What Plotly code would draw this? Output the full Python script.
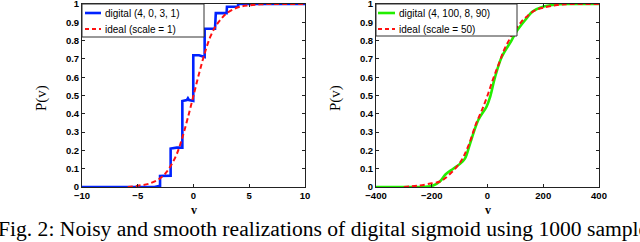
import plotly.graph_objects as go

W, H = 640, 242

# ---- data ----
dig1_v = [-10, -3.5, -3.0, -3.0, -2.05, -2.05, -1.5, -1.0, -1.0, -0.6, -0.5, -0.4, -0.02, -0.02, 0.5, 0.88, 1.0, 1.0, 1.93, 2.0, 2.97, 3.0, 4.0, 4.0, 10]
dig1_p = [0.0, 0.0, 0.006, 0.06, 0.062, 0.21, 0.215, 0.215, 0.47, 0.475, 0.485, 0.475, 0.47, 0.72, 0.72, 0.71, 0.71, 0.865, 0.865, 0.95, 0.95, 0.985, 0.985, 1.0, 1.0]
ideal1_v = [-5.9, -5, -4, -3, -2.5, -2, -1.5, -1, -0.5, 0, 0.5, 1, 1.5, 2, 2.5, 3, 4, 5, 6, 7, 10]
ideal1_p = [0.0, 0.007, 0.018, 0.047, 0.076, 0.12, 0.18, 0.27, 0.38, 0.5, 0.62, 0.73, 0.82, 0.88, 0.92, 0.95, 0.982, 0.993, 0.998, 1.0, 1.0]

dig2_v = [-400, -250, -200, -171, -150, -123, -100, -81, -63, -33, -3, 9, 27, 51, 86, 104, 134, 163, 199, 235, 280, 400]
dig2_p = [0.0, 0.0, 0.005, 0.03, 0.07, 0.1, 0.125, 0.155, 0.235, 0.366, 0.44, 0.49, 0.60, 0.71, 0.80, 0.85, 0.91, 0.96, 0.985, 0.995, 1.0, 1.0]
ideal2_v = [-300, -250, -200, -170, -150, -100, -70, -40, -20, 0, 20, 40, 60, 80, 100, 120, 140, 170, 200, 250, 300, 400]
ideal2_p = [0.0, 0.007, 0.02, 0.03, 0.05, 0.13, 0.22, 0.35, 0.42, 0.50, 0.59, 0.67, 0.75, 0.81, 0.86, 0.90, 0.93, 0.965, 0.98, 0.995, 1.0, 1.0]

x1_ticks = [-10, -5, 0, 5, 10]
x2_ticks = [-400, -200, 0, 200, 400]
y_ticks = [0, 0.1, 0.2, 0.3, 0.4, 0.5, 0.6, 0.7, 0.8, 0.9, 1]
y_ticklabels = ["0", "0.1", "0.2", "0.3", "0.4", "0.5", "0.6", "0.7", "0.8", "0.9", "1"]

legend1 = ["digital (4, 0, 3, 1)", "ideal (scale = 1)"]
legend2 = ["digital (4, 100, 8, 90)", "ideal (scale = 50)"]
caption = "Fig. 2: Noisy and smooth realizations of digital sigmoid using 1000 samples."

BLUE, RED, GREEN = "#0022ff", "#ff1111", "#22ee00"

def px(x):
    return x / W

def py(y):
    return 1 - y / H

fig = go.Figure()
fig.add_trace(go.Scatter(x=dig1_v, y=dig1_p, mode="lines", line=dict(color=BLUE, width=2.6),
                         xaxis="x", yaxis="y", showlegend=False))
fig.add_trace(go.Scatter(x=ideal1_v, y=ideal1_p, mode="lines", line=dict(color=RED, width=2, dash="5px,3px"),
                         line_shape="spline", xaxis="x", yaxis="y", showlegend=False))
fig.add_trace(go.Scatter(x=dig2_v, y=dig2_p, mode="lines", line=dict(color=GREEN, width=2.6),
                         line_shape="spline", xaxis="x2", yaxis="y2", showlegend=False))
fig.add_trace(go.Scatter(x=ideal2_v, y=ideal2_p, mode="lines", line=dict(color=RED, width=2, dash="5px,3px"),
                         line_shape="spline", xaxis="x2", yaxis="y2", showlegend=False))

tickfont = dict(family="Liberation Sans, Arial", size=9.5, color="black", weight="bold")
ax_common = dict(showgrid=False, zeroline=False, showline=True, linecolor="#222", linewidth=1,
                 mirror="ticks", ticks="inside", ticklen=3, tickcolor="#222", tickfont=tickfont,
                 ticklabeloverflow="allow", automargin=False)

ydom = [py(187), py(4)]
fig.update_layout(
    width=W, height=H, margin=dict(l=0, r=0, t=0, b=0, pad=0), autosize=False,
    paper_bgcolor="white", plot_bgcolor="white", hovermode=False,
    xaxis=dict(domain=[px(82), px(305)], range=[-10, 10], tickvals=x1_ticks, anchor="y", **ax_common),
    yaxis=dict(domain=ydom, range=[0, 1], tickvals=y_ticks, ticktext=y_ticklabels, anchor="x", **ax_common),
    xaxis2=dict(domain=[px(376), px(599)], range=[-400, 400], tickvals=x2_ticks, anchor="y2", **ax_common),
    yaxis2=dict(domain=ydom, range=[0, 1], tickvals=y_ticks, ticktext=y_ticklabels, anchor="x2", **ax_common),
)

shapes = []
annots = []

def add_legend(x0, x1, y0, y1, labels, colors, dashes, line_x0, line_x1, text_x, rows):
    shapes.append(dict(type="rect", xref="paper", yref="paper", x0=px(x0), x1=px(x1), y0=py(y1), y1=py(y0),
                       line=dict(color="#333", width=1), fillcolor="white", layer="above"))
    for lab, col, d, ry in zip(labels, colors, dashes, rows):
        shapes.append(dict(type="line", xref="paper", yref="paper", x0=px(line_x0), x1=px(line_x1),
                           y0=py(ry), y1=py(ry), line=dict(color=col, width=2 if d else 2.6, dash=d),
                           layer="above"))
        annots.append(dict(xref="paper", yref="paper", x=px(text_x), y=py(ry), text=lab, showarrow=False,
                           xanchor="left", yanchor="middle",
                           font=dict(family="Liberation Sans, Arial", size=10, color="black")))

add_legend(82, 204, 4, 37, legend1, [BLUE, RED], [None, "4px,3px"], 85, 101, 103, [13, 29])
add_legend(376, 517, 4, 36, legend2, [GREEN, RED], [None, "4px,3px"], 378, 395, 397, [13, 29])

for cx, cy in [(41, 98), (335, 98)]:
    annots.append(dict(xref="paper", yref="paper", x=px(cx), y=py(cy), text="P(v)", textangle=-90,
                       showarrow=False, xanchor="center", yanchor="middle",
                       font=dict(family="Liberation Serif, Times New Roman", size=15, color="black")))
for cx in [193.5, 487.5]:
    annots.append(dict(xref="paper", yref="paper", x=px(cx), y=py(210), text="<b>v</b>", showarrow=False,
                       xanchor="center", yanchor="middle",
                       font=dict(family="Liberation Serif, Times New Roman", size=12, color="black")))

annots.append(dict(xref="paper", yref="paper", x=px(-4), y=py(229), text=caption, showarrow=False,
                   xanchor="left", yanchor="middle",
                   font=dict(family="Liberation Serif, Times New Roman", size=21.6, color="black")))

fig.update_layout(shapes=shapes, annotations=annots)
fig.write_html("out.html", post_script="document.body.style.margin='0';",
               config={"displayModeBar": False, "staticPlot": True})
